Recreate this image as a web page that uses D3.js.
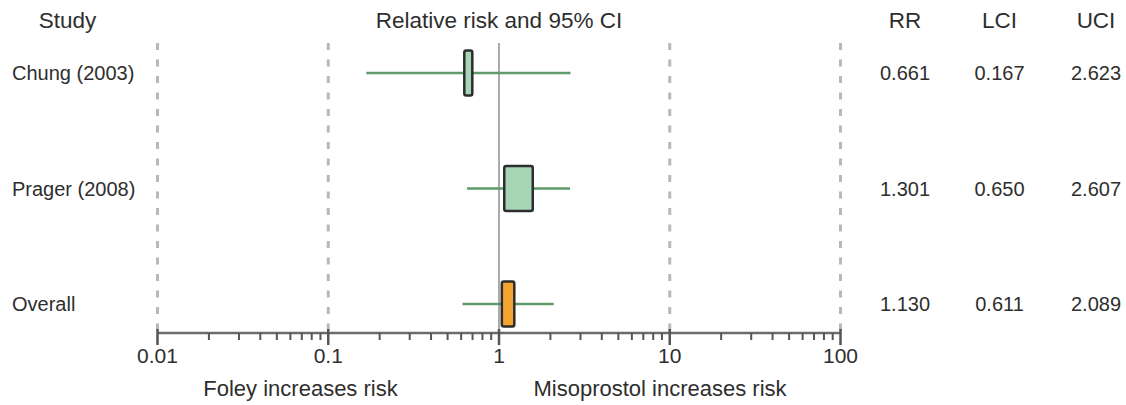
<!DOCTYPE html>
<html>
<head>
<meta charset="utf-8">
<script src="https://cdn.jsdelivr.net/npm/d3@7"></script>
<style>
  html, body { margin: 0; padding: 0; background: #fff; }
  svg { display: block; font-family: "Liberation Sans", Arial, sans-serif; }
</style>
</head>
<body>
<svg id="chart" width="1126" height="405"></svg>
<script>
// ---- data ----
const studies = ["Chung (2003)", "Prager (2008)", "Overall"];
const rr  = [0.661, 1.301, 1.130];
const lci = [0.167, 0.650, 0.611];
const uci = [2.623, 2.607, 2.089];
const weights = [20.3, 79.7, null];          // relative study weights (%); overall drawn as summary
const isSummary = [false, false, true];
const tickValues = [0.01, 0.1, 1, 10, 100];
const tickLabels = ["0.01", "0.1", "1", "10", "100"];
const headers = ["Study", "Relative risk and 95% CI", "RR", "LCI", "UCI"];
const sideLabels = ["Foley increases risk", "Misoprostol increases risk"];

// ---- layout ----
const svg = d3.select("#chart");
const textColor = "#2e2e2e";
const x = d3.scaleLog().domain([0.01, 100]).range([157.5, 840.5]);
const y = d3.scalePoint().domain(studies).range([73, 304]);
const axisY = 333;
const plotTop = 43;
const boxH = 45;
const wScale = d3.scaleLinear().domain([0, 79.7]).range([1, 28.5]);
const summaryW = 12.5;
const colX = { RR: 905, LCI: 999.5, UCI: 1096 };

// dashed gridlines at decades (except 1)
svg.append("g").selectAll("line")
  .data(tickValues.filter(v => v !== 1))
  .join("line")
  .attr("x1", d => x(d)).attr("x2", d => x(d))
  .attr("y1", plotTop).attr("y2", axisY)
  .attr("stroke", "#b8b8b8").attr("stroke-width", 3)
  .attr("stroke-dasharray", "7,9.5");

// reference line at 1
svg.append("line")
  .attr("x1", x(1)).attr("x2", x(1))
  .attr("y1", plotTop).attr("y2", axisY)
  .attr("stroke", "#ababab").attr("stroke-width", 2);

// axis
const minorTicks = [];
for (let e = -2; e < 2; e++) for (let m = 2; m <= 9; m++) minorTicks.push(m * Math.pow(10, e));
const axisG = svg.append("g");
axisG.append("line")
  .attr("x1", x(0.01)).attr("x2", x(100))
  .attr("y1", axisY).attr("y2", axisY)
  .attr("stroke", "#6b6b6b").attr("stroke-width", 2.5);
axisG.selectAll("line.minor").data(minorTicks).join("line").attr("class", "minor")
  .attr("x1", d => x(d)).attr("x2", d => x(d))
  .attr("y1", axisY).attr("y2", axisY + 7)
  .attr("stroke", "#555").attr("stroke-width", 2);
axisG.selectAll("line.major").data(tickValues).join("line").attr("class", "major")
  .attr("x1", d => x(d)).attr("x2", d => x(d))
  .attr("y1", axisY - 4).attr("y2", axisY + 12)
  .attr("stroke", "#555").attr("stroke-width", 2.5);
axisG.selectAll("text").data(tickValues).join("text")
  .attr("x", d => x(d)).attr("y", 363)
  .attr("text-anchor", "middle")
  .attr("font-size", 21).attr("fill", textColor)
  .text((d, i) => tickLabels[i]);

// CI lines
const rows = studies.map((s, i) => ({ s, rr: rr[i], lci: lci[i], uci: uci[i], w: weights[i], sum: isSummary[i] }));
svg.append("g").selectAll("line").data(rows).join("line")
  .attr("x1", d => x(d.lci)).attr("x2", d => x(d.uci))
  .attr("y1", d => y(d.s)).attr("y2", d => y(d.s))
  .attr("stroke", "#5f9a6a").attr("stroke-width", 2.5);

// boxes
svg.append("g").selectAll("rect").data(rows).join("rect")
  .attr("x", d => x(d.rr) - (d.sum ? summaryW : wScale(d.w)) / 2)
  .attr("width", d => d.sum ? summaryW : wScale(d.w))
  .attr("y", d => y(d.s) - boxH / 2)
  .attr("height", boxH)
  .attr("rx", 2)
  .attr("fill", d => d.sum ? "#f5a331" : "#a6d6b6")
  .attr("stroke", "#2d2d2d").attr("stroke-width", 2.5);

// row labels
svg.append("g").selectAll("text").data(rows).join("text")
  .attr("x", 12).attr("y", d => y(d.s) + 7)
  .attr("font-size", 20).attr("fill", textColor)
  .text(d => d.s);

// value columns
const fmt = d3.format(".3f");
[["RR", "rr"], ["LCI", "lci"], ["UCI", "uci"]].forEach(([k, f]) => {
  svg.append("g").selectAll("text").data(rows).join("text")
    .attr("x", colX[k]).attr("y", d => y(d.s) + 7)
    .attr("text-anchor", "middle")
    .attr("font-size", 20).attr("fill", textColor)
    .text(d => fmt(d[f]));
});

// headers
const headerX = [67.5, x(1), colX.RR, colX.LCI, colX.UCI];
svg.append("g").selectAll("text").data(headers).join("text")
  .attr("x", (d, i) => headerX[i]).attr("y", 28)
  .attr("text-anchor", "middle")
  .attr("font-size", 22.5).attr("fill", textColor)
  .text(d => d);

// side labels
const sideX = [300.5, 660];
svg.append("g").selectAll("text").data(sideLabels).join("text")
  .attr("x", (d, i) => sideX[i]).attr("y", 396)
  .attr("text-anchor", "middle")
  .attr("font-size", 22).attr("fill", textColor)
  .text(d => d);
</script>
</body>
</html>
